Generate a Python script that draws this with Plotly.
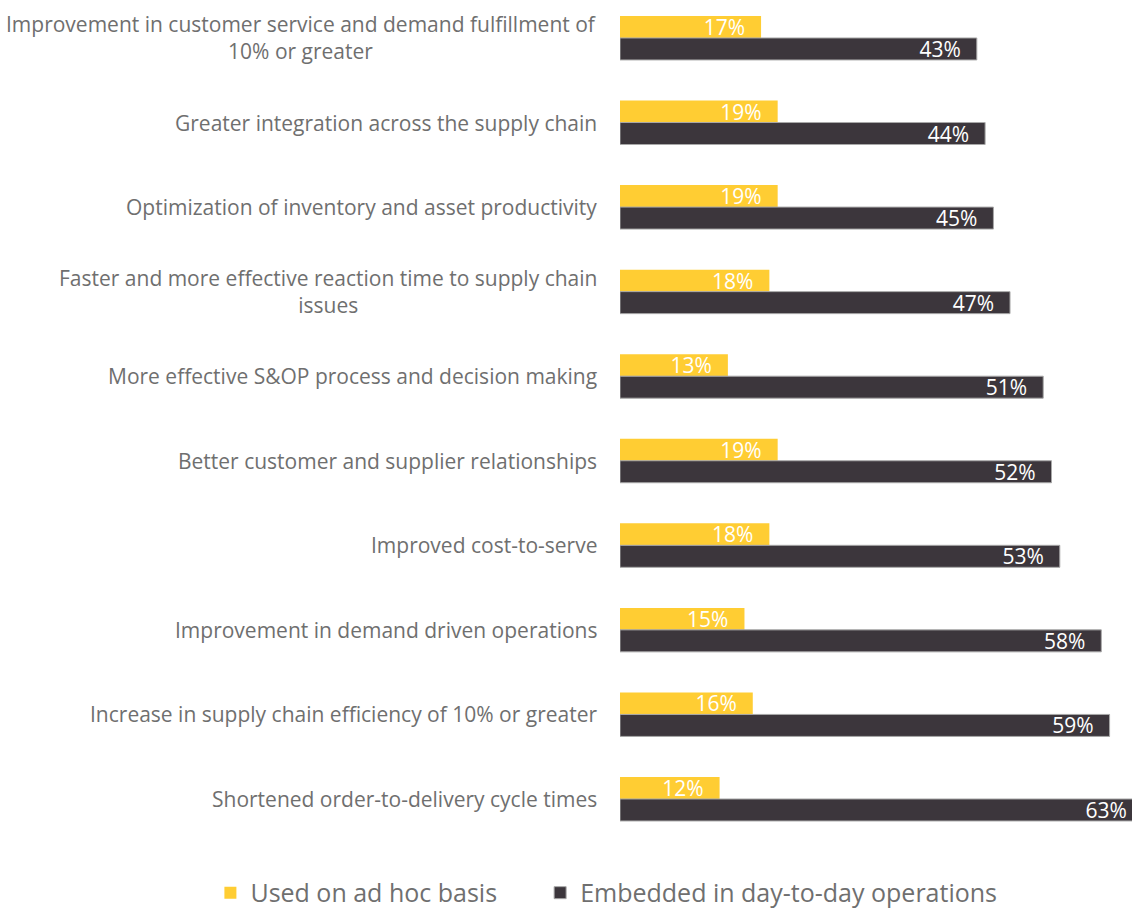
import plotly.graph_objects as go

categories = [
    "Improvement in customer service and demand fulfillment of<br>10% or greater",
    "Greater integration across the supply chain",
    "Optimization of inventory and asset productivity",
    "Faster and more effective reaction time to supply chain<br>issues",
    "More effective S&OP process and decision making",
    "Better customer and supplier relationships",
    "Improved cost-to-serve",
    "Improvement in demand driven operations",
    "Increase in supply chain efficiency of 10% or greater",
    "Shortened order-to-delivery cycle times",
]
ad_hoc = [17, 19, 19, 18, 13, 19, 18, 15, 16, 12]
embedded = [43, 44, 45, 47, 51, 52, 53, 58, 59, 63]
series_names = ["Used on ad hoc basis", "Embedded in day-to-day operations"]

YELLOW = "#FFCD33"
DARK = "#3C363C"
GRAY = "#6F6F6F"
FONT = "Open Sans"
PAD = "\u00a0\u00a0\u200a"

idx = list(range(len(categories)))

common = dict(orientation="h", textposition="inside", insidetextanchor="end",
              textangle=0, constraintext="none")

fig = go.Figure()
fig.add_trace(go.Bar(
    y=idx, x=ad_hoc, name=series_names[0], legend="legend",
    marker=dict(color=YELLOW, line=dict(width=0)),
    text=[f"{v}%{PAD}" for v in ad_hoc],
    textfont=dict(color="white", size=21, family=FONT), **common,
))
fig.add_trace(go.Bar(
    y=idx, x=embedded, name=series_names[1], legend="legend2",
    marker=dict(color=DARK, line=dict(width=1, color="#A8A8A8")),
    text=[f"{v}%{PAD}" for v in embedded],
    textfont=dict(color="white", size=21, family=FONT), **common,
))

for i, c in enumerate(categories):
    fig.add_annotation(
        x=0, xref="paper", y=i, yref="y", text=c, showarrow=False,
        xanchor="right", yanchor="middle", align="center", xshift=-21,
        font=dict(size=21, color=GRAY, family=FONT),
    )

legend_common = dict(orientation="h", y=-0.063, yanchor="middle", xanchor="left",
                     font=dict(size=25, color=GRAY, family=FONT),
                     bgcolor="rgba(0,0,0,0)")

fig.update_layout(
    width=1132, height=908,
    margin=dict(l=620, r=0, t=0, b=68, autoexpand=False),
    paper_bgcolor="white", plot_bgcolor="white",
    barmode="group", bargap=0.48, bargroupgap=0,
    uniformtext=dict(mode=False),
    xaxis=dict(range=[0, 61.7], visible=False, fixedrange=True),
    yaxis=dict(range=[9.485, -0.449], showticklabels=False, showgrid=False,
               zeroline=False, showline=False, ticks=""),
    showlegend=True,
    legend=dict(x=-0.8, **legend_common),
    legend2=dict(x=-0.156, **legend_common),
)

fig.write_html("out.html")
